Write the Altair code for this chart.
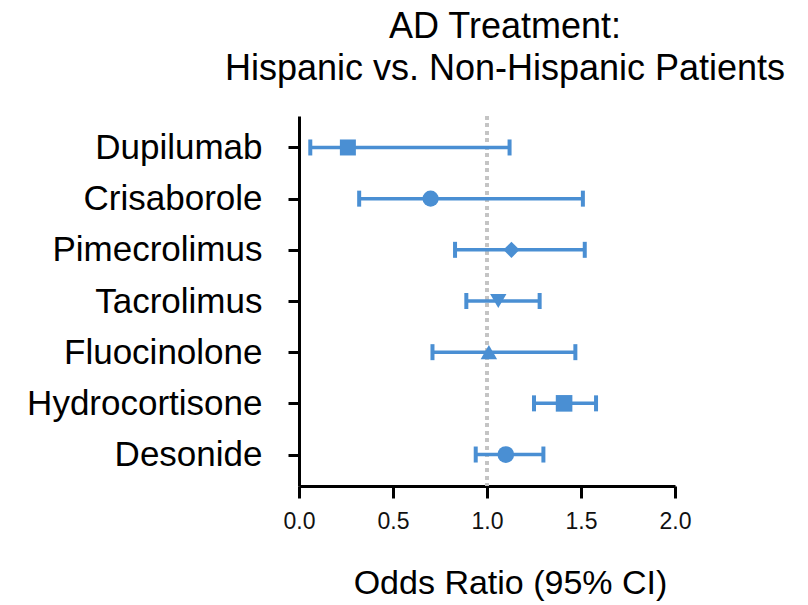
import altair as alt
import pandas as pd

drugs = ["Dupilumab", "Crisaborole", "Pimecrolimus", "Tacrolimus",
         "Fluocinolone", "Hydrocortisone", "Desonide"]
odds_ratio = [0.26, 0.70, 1.13, 1.06, 1.01, 1.41, 1.10]
ci_low = [0.06, 0.32, 0.83, 0.89, 0.71, 1.25, 0.94]
ci_high = [1.12, 1.51, 1.52, 1.28, 1.47, 1.58, 1.30]
x_ticks = [0.0, 0.5, 1.0, 1.5, 2.0]

df = pd.DataFrame({"drug": drugs, "or": odds_ratio, "lo": ci_low, "hi": ci_high})

BLUE = "#4a8fd3"
FONT = "Liberation Sans"

shape_range = ["square", "circle", "diamond", "triangle-down", "triangle-up", "square", "circle"]
size_range = [256, 279, 216, 256, 313, 246, 151]

y_enc = alt.Y("drug:N", sort=drugs,
              scale=alt.Scale(type="point", domain=drugs, padding=0.615),
              axis=alt.Axis(title=None, labelFontSize=35, labelFont=FONT, labelColor="#000",
                            labelPadding=26, labelLimit=0, tickSize=11, tickWidth=3, tickColor="#000",
                            domainWidth=3, domainColor="#000", grid=False))
x_scale = alt.Scale(domain=[0, 2], nice=False, zero=False)
x_axis = alt.Axis(title="Odds Ratio (95% CI)", values=x_ticks, format=".1f",
                  labelFontSize=23, labelFont=FONT, labelColor="#111", labelPadding=12,
                  labelFlush=False,
                  tickSize=12, tickWidth=3, tickColor="#000",
                  domainWidth=3, domainColor="#000", grid=False,
                  titleFont=FONT, titleFontSize=34, titleFontWeight="normal", titleColor="#000",
                  titleX=211, titleY=107, titleAlign="center", titleBaseline="alphabetic")

ref = alt.Chart(df).mark_rule(color="#c4c4c4", strokeWidth=3.5, strokeDash=[3.5, 4]).encode(
    x=alt.datum(1, scale=x_scale)
)

bars = alt.Chart(df).mark_rule(color=BLUE, strokeWidth=3.5).encode(
    x=alt.X("lo:Q", scale=x_scale, axis=x_axis),
    x2="hi:Q",
    y=y_enc,
)
cap_lo = alt.Chart(df).mark_tick(color=BLUE, thickness=4, size=16, opacity=1, orient="vertical").encode(
    x=alt.X("lo:Q", scale=x_scale), y=alt.Y("drug:N", sort=drugs))
cap_hi = alt.Chart(df).mark_tick(color=BLUE, thickness=4, size=16, opacity=1, orient="vertical").encode(
    x=alt.X("hi:Q", scale=x_scale), y=alt.Y("drug:N", sort=drugs))

points = alt.Chart(df).mark_point(filled=True, opacity=1, color=BLUE).encode(
    x=alt.X("or:Q", scale=x_scale),
    y=alt.Y("drug:N", sort=drugs),
    shape=alt.Shape("drug:N", scale=alt.Scale(domain=drugs, range=shape_range), legend=None),
    size=alt.Size("drug:N", scale=alt.Scale(domain=drugs, range=size_range), legend=None),
)

chart = alt.layer(ref, bars, cap_lo, cap_hi, points).properties(
    width=376, height=370,
    title=alt.TitleParams(["AD Treatment:", "Hispanic vs. Non-Hispanic Patients"],
                          font=FONT, fontSize=36, fontWeight="normal", color="#000",
                          lineHeight=42, anchor="middle", baseline="bottom", offset=27, dx=18, dy=37),
    autosize=alt.AutoSizeParams(type="none"),
    padding={"left": 299, "top": 116, "right": 133, "bottom": 119},
    background="white",
).configure_view(stroke=None)

chart.save("out.html", embed_options={"renderer": "svg", "actions": False})
